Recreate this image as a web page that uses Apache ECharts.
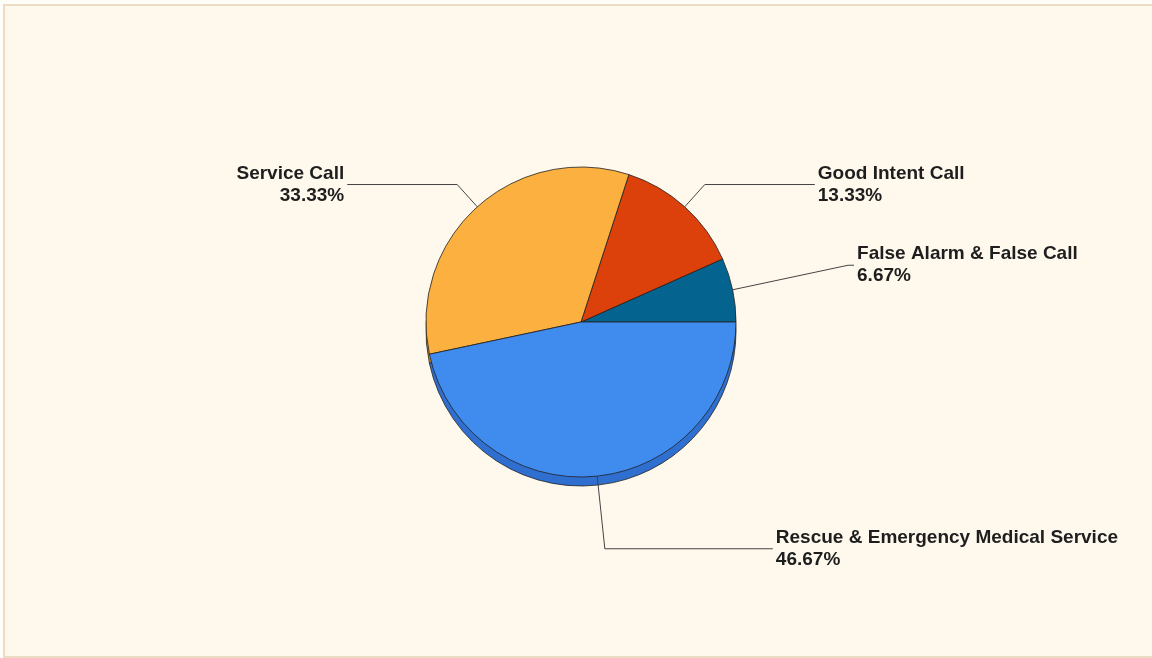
<!DOCTYPE html>
<html>
<head>
<meta charset="utf-8">
<script src="https://cdn.jsdelivr.net/npm/echarts@6/dist/echarts.min.js"></script>
<style>
  html, body { margin: 0; padding: 0; width: 1152px; height: 658px; overflow: hidden; background: #fffdf8; }
  #chart { position: absolute; left: 3px; top: 4px; width: 1160px; height: 650px; border: 2px solid #ecdcc3; background: #fef8ed; }
</style>
</head>
<body>
<div id="chart"></div>
<script>
// Data
const categories = ['False Alarm & False Call', 'Good Intent Call', 'Service Call', 'Rescue & Emergency Medical Service'];
const counts = [1, 2, 5, 7];
const faceColors = ['#04648f', '#dd410b', '#fbb040', '#408bee'];
const sideColors = ['#034e70', '#b3340a', '#d08f30', '#2f6fd0'];
const lineLengths = [[118, 6], [30, 110], [30, 110], [73, 168]];

const chart = echarts.init(document.getElementById('chart'), null, { renderer: 'canvas' });

const cx = 576, cy = 316, r = 155, depth = 9;

const faceData = categories.map((name, i) => ({
  name: name,
  value: counts[i],
  itemStyle: { color: faceColors[i] },
  labelLine: { length: lineLengths[i][0], length2: lineLengths[i][1] }
}));
const sideData = categories.map((name, i) => ({
  name: name,
  value: counts[i],
  itemStyle: { color: sideColors[i] }
}));

chart.setOption({
  backgroundColor: 'transparent',
  animation: false,
  series: [
    {
      type: 'pie',
      silent: true,
      z: 1,
      center: [cx, cy + depth],
      radius: [0, r],
      startAngle: 0,
      clockwise: false,
      label: { show: false },
      labelLine: { show: false },
      itemStyle: { borderColor: '#222', borderWidth: 0.8 },
      data: sideData
    },
    {
      type: 'pie',
      z: 2,
      center: [cx, cy],
      radius: [0, r],
      startAngle: 0,
      clockwise: false,
      avoidLabelOverlap: false,
      itemStyle: { borderColor: '#222', borderWidth: 0.8 },
      label: {
        show: true,
        formatter: '{b}\n{d}%',
        fontFamily: 'Liberation Sans, Arial, sans-serif',
        fontWeight: 'bold',
        fontSize: 19,
        lineHeight: 22,
        color: '#1e1e1e',
        distanceToLabelLine: 3
      },
      labelLine: {
        show: true,
        lineStyle: { color: '#444', width: 1 }
      },
      emphasis: { disabled: true },
      data: faceData
    }
  ]
});
</script>
</body>
</html>
